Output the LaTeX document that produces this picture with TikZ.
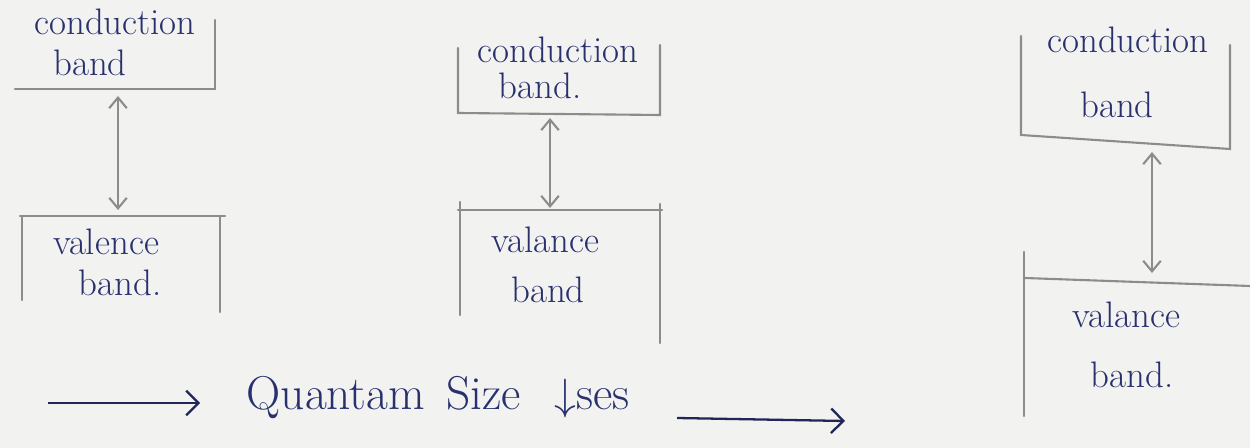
\documentclass[tikz,border=0pt]{standalone}
\usetikzlibrary{arrows.meta}
\definecolor{paper}{RGB}{242,242,240}
\definecolor{ink}{RGB}{40,48,110}
\definecolor{pencil}{RGB}{140,140,140}
\tikzset{
  bandline/.style={draw=pencil, line width=1.2pt, line cap=round},
  gaparrow/.style={draw=pencil, line width=1.2pt, {Straight Barb[length=6pt,width=10pt]}-{Straight Barb[length=6pt,width=10pt]}},
  flowarrow/.style={draw=ink!80!black, line width=1.3pt, -{Straight Barb[length=7pt,width=14pt]}},
  hw/.style={text=ink, font=\fontsize{21}{25}\selectfont, inner sep=0pt, anchor=center},
  bigtxt/.style={text=ink, font=\fontsize{27}{32}\selectfont, inner sep=0pt, anchor=center}
}
\begin{document}
\begin{tikzpicture}[x=0.02cm, y=-0.02cm]
\fill[paper] (0,0) rectangle (1250,448);
\useasboundingbox (0,0) rectangle (1250,448);

% ---------- panel 1 ----------
\coordinate (p1cbl) at (15,89);
\coordinate (p1cbr) at (215,89);
\coordinate (p1ctr) at (215,20);
\draw[bandline] (p1cbl) -- (p1cbr) -- (p1ctr);
\node[hw] (p1c1) at (115,22) {conduction};
\node[hw] (p1c2) at (90,63) {band};
\coordinate (p1vtl) at (20,216);
\coordinate (p1vtr) at (225,216);
\coordinate (p1vbl) at (22,300);
\coordinate (p1vbr) at (220,312);
\draw[bandline] (p1vbl) -- (22,216);
\draw[bandline] (p1vtl) -- (p1vtr);
\draw[bandline] (220,216) -- (p1vbr);
\node[hw] (p1v1) at (106,242) {valence};
\node[hw] (p1v2) at (120,283) {band.};
\coordinate (p1a) at (118,96);
\coordinate (p1b) at (118,210);
\draw[gaparrow] (p1a) -- (p1b);

% ---------- panel 2 ----------
\coordinate (p2ctl) at (458,48);
\coordinate (p2cbl) at (458,113);
\coordinate (p2cbr) at (660,115);
\coordinate (p2ctr) at (660,45);
\draw[bandline] (p2ctl) -- (p2cbl) -- (p2cbr) -- (p2ctr);
\node[hw] (p2c1) at (558,50) {conduction};
\node[hw] (p2c2) at (540,86) {band.};
\coordinate (p2vtl) at (458,210);
\coordinate (p2vtr) at (662,210);
\draw[bandline] (p2vtl) -- (p2vtr);
\draw[bandline] (460,202) -- (460,315);
\draw[bandline] (660,204) -- (660,343);
\node[hw] (p2v1) at (545,240) {valance};
\node[hw] (p2v2) at (548,290) {band};
\coordinate (p2a) at (550,118);
\coordinate (p2b) at (550,208);
\draw[gaparrow] (p2a) -- (p2b);

% ---------- panel 3 ----------
\coordinate (p3ctl) at (1021,36);
\coordinate (p3cbl) at (1021,135);
\coordinate (p3cbr) at (1230,149);
\coordinate (p3ctr) at (1230,45);
\draw[bandline] (p3ctl) -- (p3cbl) -- (p3cbr) -- (p3ctr);
\node[hw] (p3c1) at (1128,40) {conduction};
\node[hw] (p3c2) at (1117,105) {band};
\coordinate (p3vtl) at (1025,278);
\coordinate (p3vtr) at (1250,286);
\draw[bandline] (p3vtl) -- (p3vtr);
\draw[bandline] (1024,252) -- (1024,416);
\node[hw] (p3v1) at (1126,315) {valance};
\node[hw] (p3v2) at (1132,375) {band.};
\coordinate (p3a) at (1152,152);
\coordinate (p3b) at (1152,273);
\draw[gaparrow] (p3a) -- (p3b);

% ---------- bottom ----------
\node[bigtxt] (qs) at (438,398) {Quantam\hspace{0.45em}Size\hspace{0.7em}$\downarrow$ses};
\coordinate (fa0) at (48,403);
\coordinate (fa1) at (200,403);
\draw[flowarrow] (fa0) -- (fa1);
\coordinate (fb0) at (677,418);
\coordinate (fb1) at (845,421);
\draw[flowarrow] (fb0) -- (fb1);
\end{tikzpicture}
\end{document}
